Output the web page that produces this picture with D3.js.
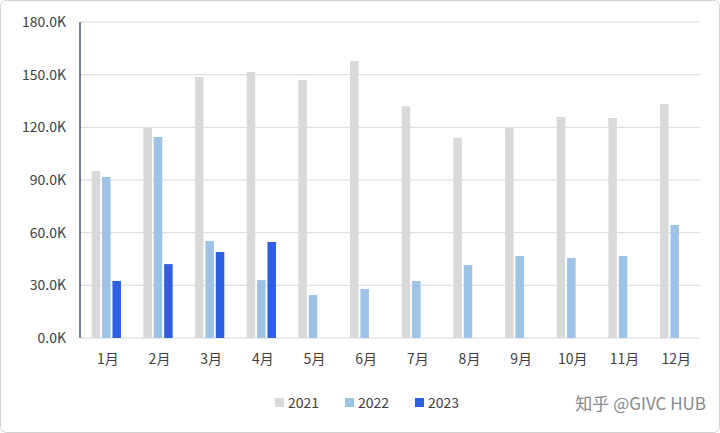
<!DOCTYPE html>
<html><head><meta charset="utf-8">
<script src="https://cdn.jsdelivr.net/npm/d3@7/dist/d3.min.js"></script>
<style>body{margin:0;background:#fff;font-family:"Noto Sans CJK SC","Noto Sans",sans-serif}</style>
</head><body><svg id="c" width="720" height="433"></svg>
<script>
const months=["1月","2月","3月","4月","5月","6月","7月","8月","9月","10月","11月","12月"];
const series=["2021","2022","2023"];
const v2021=[95.1,119.6,148.7,151.5,147,157.8,132,114,119.6,125.9,125.3,133.3];
const v2022=[91.7,114.5,55.2,33,24.5,27.9,32.5,41.6,46.7,45.6,46.7,64.4];
const v2023=[32.5,42.1,49,54.7,null,null,null,null,null,null,null,null];
const yTicks=[0,30,60,90,120,150,180];
const colors=["#d9d9d9","#9dc3e6","#2e5fe0"];
const svg=d3.select("#c");
svg.append("rect").attr("x",0.5).attr("y",0.5).attr("width",719).attr("height",432).attr("rx",6).attr("fill","#fff").attr("stroke","#d0d0d0");
const y=d3.scaleLinear().domain([0,180]).range([338,22]);
const x=d3.scaleBand().domain(months).range([80,700]);
const xs=d3.scaleBand().domain(series).range([-16,17]).padding(0.18);
const g=svg.append("g");
g.selectAll("line.grid").data(yTicks).join("line").attr("x1",80).attr("x2",700)
 .attr("y1",d=>y(d)).attr("y2",d=>y(d)).attr("stroke","#d9d9d9");
g.selectAll("text.yt").data(yTicks).join("text").attr("x",66).attr("y",d=>y(d)+5)
 .attr("text-anchor","end").attr("font-size",14).attr("fill","#404040").text(d=>d.toFixed(1)+"K");
g.append("line").attr("x1",80).attr("x2",80).attr("y1",22).attr("y2",338).attr("stroke","#44546a").attr("stroke-width",1.5);
const data=[v2021,v2022,v2023];
data.forEach((arr,si)=>{
 g.selectAll(null).data(arr.map((v,i)=>({v,m:months[i]})).filter(d=>d.v!=null)).join("rect")
  .attr("x",d=>x(d.m)+x.bandwidth()/2+xs(series[si])).attr("width",xs.bandwidth())
  .attr("y",d=>y(d.v)).attr("height",d=>y(0)-y(d.v)).attr("fill",colors[si]);
});
g.selectAll("text.xt").data(months).join("text").attr("x",d=>x(d)+x.bandwidth()/2+2).attr("y",364)
 .attr("text-anchor","middle").attr("font-size",14).attr("fill","#404040").text(d=>d);
const lx=[275,345,415];
series.forEach((s,i)=>{
 svg.append("rect").attr("x",lx[i]).attr("y",398).attr("width",9).attr("height",9).attr("fill",colors[i]);
 svg.append("text").attr("x",lx[i]+13).attr("y",408).attr("font-size",14).attr("fill","#404040").text(s);
});
svg.append("text").attr("x",706).attr("y",410).attr("text-anchor","end").attr("font-size",17).attr("fill","#8a8a8a").text("知乎 @GIVC HUB");
</script></body></html>
